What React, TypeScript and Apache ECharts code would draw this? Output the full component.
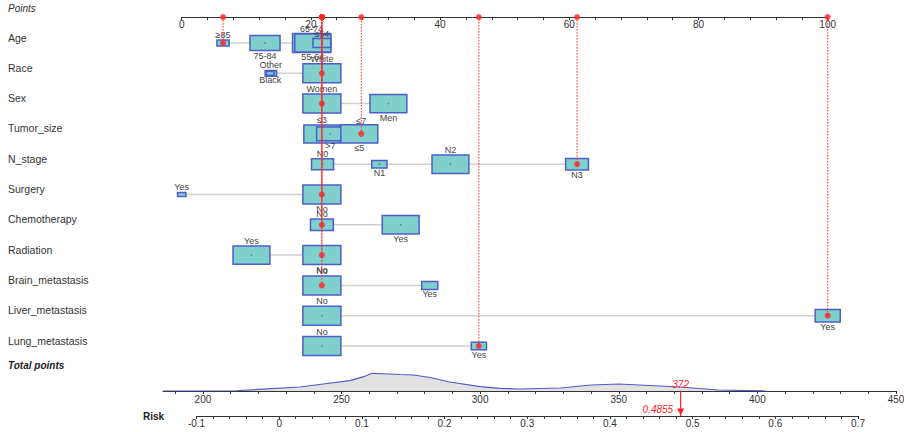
import React, { useEffect, useRef } from "react";
import * as echarts from "echarts";

const FONT = '"Liberation Sans", Arial, sans-serif';

const variables = [
  "Age", "Race", "Sex", "Tumor_size", "N_stage", "Surgery",
  "Chemotherapy", "Radiation", "Brain_metastasis", "Liver_metastasis", "Lung_metastasis",
];

const ageLevels = ["≥85", "75-84", "65-74", "55-64", "≤54"];
const agePoints = [6.4, 12.9, 20.1, 20.3, 21.7];
const ageSizes = [0.32, 0.79, 1.0, 0.95, 0.47];

const raceLevels = ["Other", "Black", "White"];
const racePoints = [13.8, 13.7, 21.7];
const raceSizes = [0.3, 0.2, 1.0];

const sexLevels = ["Women", "Men"];
const sexPoints = [21.7, 32.0];
const sexSizes = [1.0, 0.97];

const tumorLevels = ["≤3", ">7", "≤7", "≤5"];
const tumorPoints = [21.7, 23.0, 27.8, 27.5];
const tumorSizes = [0.95, 0.72, 0.78, 0.97];

const nLevels = ["N0", "N1", "N2", "N3"];
const nPoints = [21.8, 30.6, 41.6, 61.2];
const nSizes = [0.58, 0.4, 0.97, 0.6];

const surgeryLevels = ["Yes", "No"];
const surgeryPoints = [0, 21.7];
const surgerySizes = [0.22, 1.0];

const chemoLevels = ["No", "Yes"];
const chemoPoints = [21.7, 33.9];
const chemoSizes = [0.6, 0.97];

const radiationLevels = ["Yes", "No"];
const radiationPoints = [10.8, 21.7];
const radiationSizes = [0.97, 1.0];

const brainLevels = ["No", "Yes"];
const brainPoints = [21.7, 38.4];
const brainSizes = [1.0, 0.42];

const liverLevels = ["No", "Yes"];
const liverPoints = [21.7, 100];
const liverSizes = [1.0, 0.66];

const lungLevels = ["No", "Yes"];
const lungPoints = [21.7, 46.0];
const lungSizes = [1.0, 0.4];

const selectedLevels = ["≥85", "White", "Women", "≤7", "N3", "No", "No", "No", "No", "Yes", "Yes"];

const pointsLabels = [0, 20, 40, 60, 80, 100];
const totalLabels = [200, 250, 300, 350, 400, 450];
const riskLabels = [-0.1, 0, 0.1, 0.2, 0.3, 0.4, 0.5, 0.6, 0.7];

const densityPoints = [185.6, 200, 212, 235, 242, 253, 258, 261, 265, 271, 276, 282, 289, 300, 307, 314, 329, 340, 350, 361, 372, 386, 403];
const densityValues = [0, 0, 0.05, 0.8, 1.3, 2.06, 2.86, 3.54, 3.45, 3.3, 3.2, 2.7, 1.8, 0.86, 0.54, 0.4, 0.6, 1.2, 1.4, 1.1, 0.8, 0.2, 0];

const totalScore = 372;
const predictedRisk = 0.4855;

const rows = [
  [ageLevels, agePoints, ageSizes],
  [raceLevels, racePoints, raceSizes],
  [sexLevels, sexPoints, sexSizes],
  [tumorLevels, tumorPoints, tumorSizes],
  [nLevels, nPoints, nSizes],
  [surgeryLevels, surgeryPoints, surgerySizes],
  [chemoLevels, chemoPoints, chemoSizes],
  [radiationLevels, radiationPoints, radiationSizes],
  [brainLevels, brainPoints, brainSizes],
  [liverLevels, liverPoints, liverSizes],
  [lungLevels, lungPoints, lungSizes],
] as [string[], number[], number[]][];

const AXIS_ROW = -0.855;
const BOX_W = 38;
const BOX_H = 19;
const RED = "#ff2424";

function range(a: number, b: number, step: number, dec: number) {
  const out: number[] = [];
  const n = Math.round((b - a) / step);
  for (let i = 0; i <= n; i++) out.push(Math.round((a + i * step) * Math.pow(10, dec)) / Math.pow(10, dec));
  return out;
}

export default function App() {
  const ref = useRef<HTMLDivElement>(null);
  useEffect(() => {
    if (!ref.current) return;
    const chart = echarts.init(ref.current, null, { renderer: "svg" });

    const boxItems: { pts: number; row: number; size: number; label: string; above: boolean }[] = [];
    const rowSpans: number[][] = [];
    const selections: number[][] = [];
    rows.forEach(([levels, pts, sizes], r) => {
      levels.forEach((lv, i) => boxItems.push({ pts: pts[i], row: r, size: sizes[i], label: lv, above: i % 2 === 0 }));
      rowSpans.push([Math.min(...pts), Math.max(...pts), r]);
      const si = levels.indexOf(selectedLevels[r]);
      selections.push([pts[si], r, r]);
    });

    const option: any = {
      animation: false,
      backgroundColor: "#ffffff",
      textStyle: { fontFamily: FONT },
      grid: [
        { left: 181.7, width: 646, top: 17.1, height: 344.05, outerBoundsMode: "none" },
        { left: 163, width: 733, top: 370, height: 21, outerBoundsMode: "none" },
        { left: 196.5, width: 661.5, top: 391, height: 25, outerBoundsMode: "none" },
      ],
      xAxis: [
        {
          gridIndex: 0, type: "value", position: "top", min: 0, max: 100,
          axisLine: { onZero: false, lineStyle: { color: "#333", width: 1 } },
          axisTick: { inside: true, length: 3, customValues: range(0, 100, 4, 0), lineStyle: { color: "#333" } },
          axisLabel: { inside: true, margin: 2, customValues: pointsLabels, color: "#333", fontSize: 10, fontFamily: FONT },
          splitLine: { show: false },
        },
        {
          gridIndex: 1, type: "value", position: "bottom", min: 185.6, max: 450,
          axisLine: { onZero: false, lineStyle: { color: "#333", width: 1 } },
          axisTick: { length: 3, customValues: range(190, 450, 10, 0), lineStyle: { color: "#333" } },
          axisLabel: { margin: 3, customValues: totalLabels, color: "#333", fontSize: 10, fontFamily: FONT },
          splitLine: { show: false },
        },
        {
          gridIndex: 2, type: "value", position: "bottom", min: -0.1, max: 0.7,
          axisLine: { onZero: false, lineStyle: { color: "#333", width: 1 } },
          axisTick: { length: 3, customValues: range(-0.1, 0.7, 0.02, 2), lineStyle: { color: "#333" } },
          axisLabel: { margin: 2, customValues: riskLabels, color: "#333", fontSize: 10, fontFamily: FONT, formatter: (v: number) => String(Math.round(v * 10) / 10) },
          splitLine: { show: false },
        },
      ],
      yAxis: [
        {
          gridIndex: 0, type: "value", inverse: true, min: AXIS_ROW, max: 10.5,
          axisLine: { show: false }, axisTick: { show: false }, splitLine: { show: false },
          axisLabel: {
            customValues: variables.map((_, i) => i),
            formatter: (v: number) => variables[Math.round(v)] ?? "",
            align: "left", margin: 173.7, verticalAlign: "bottom",
            fontSize: 10.5, color: "#333", fontFamily: FONT,
          },
        },
        { gridIndex: 1, type: "value", min: 0, max: 4.2, show: false },
        { gridIndex: 2, type: "value", min: 0, max: 1, show: false },
      ],
      series: [
        {
          type: "custom", xAxisIndex: 0, yAxisIndex: 0, z: 1,
          data: rowSpans,
          encode: { x: [0, 1], y: 2 },
          renderItem: (_p: any, api: any) => {
            const a = api.coord([api.value(0), api.value(2)]);
            const b = api.coord([api.value(1), api.value(2)]);
            return { type: "line", shape: { x1: a[0], y1: a[1], x2: b[0], y2: b[1] }, style: { stroke: "#cfcfcf", lineWidth: 1.5 } };
          },
        },
        {
          type: "custom", xAxisIndex: 0, yAxisIndex: 0, z: 2,
          data: boxItems.map((b) => [b.pts, b.row, b.size]),
          encode: { x: 0, y: 1 },
          renderItem: (_p: any, api: any) => {
            const c = api.coord([api.value(0), api.value(1)]);
            const s = api.value(2);
            const w = BOX_W * s, h = BOX_H * s;
            return {
              type: "group",
              children: [
                { type: "rect", shape: { x: c[0] - w / 2, y: c[1] - h / 2, width: w, height: h }, style: { fill: "#7fd0cc", stroke: "#4d5ec8", lineWidth: 1.5 } },
                { type: "circle", shape: { cx: c[0], cy: c[1], r: 0.8 }, style: { fill: "#5c8088" } },
              ],
            };
          },
        },
        {
          type: "custom", xAxisIndex: 0, yAxisIndex: 0, z: 3,
          data: boxItems.map((b) => [b.pts, b.row, b.size]),
          encode: { x: 0, y: 1 },
          renderItem: (p: any, api: any) => {
            const item = boxItems[p.dataIndex];
            const c = api.coord([api.value(0), api.value(1)]);
            const h = BOX_H * api.value(2);
            return {
              type: "text",
              x: c[0],
              y: item.above ? c[1] - h / 2 - 0.5 : c[1] + h / 2 + 0.5,
              style: { text: item.label, fill: "#444", font: `9px ${FONT}`, align: "center", verticalAlign: item.above ? "bottom" : "top" },
            };
          },
        },
        {
          type: "custom", xAxisIndex: 0, yAxisIndex: 0, z: 4,
          data: selections,
          encode: { x: 0, y: 1 },
          renderItem: (_p: any, api: any) => {
            const a = api.coord([api.value(0), AXIS_ROW]);
            const b = api.coord([api.value(0), api.value(1)]);
            return {
              type: "line",
              shape: { x1: a[0], y1: a[1], x2: b[0], y2: b[1] },
              style: { stroke: RED, lineWidth: 1, lineDash: [1.5, 1.5], lineDashOffset: api.value(2) * 0.7 },
            };
          },
        },
        {
          type: "scatter", xAxisIndex: 0, yAxisIndex: 0, z: 5, clip: false,
          symbol: "circle", symbolSize: 6, itemStyle: { color: RED },
          data: selections.map((s) => [s[0], s[1]]),
        },
        {
          type: "scatter", xAxisIndex: 0, yAxisIndex: 0, z: 5, clip: false,
          symbol: "circle", symbolSize: 6, itemStyle: { color: RED },
          data: selections.map((s) => [s[0], AXIS_ROW]),
        },
        {
          type: "line", xAxisIndex: 1, yAxisIndex: 1, z: 1,
          symbol: "none", smooth: false,
          lineStyle: { color: "#5555cc", width: 1.2 },
          areaStyle: { color: "#e2e2e2", opacity: 1 },
          data: densityPoints.map((x, i) => [x, densityValues[i]]),
        },
        {
          type: "line", xAxisIndex: 2, yAxisIndex: 2, z: 6, clip: false,
          lineStyle: { color: RED, width: 1.2 },
          itemStyle: { color: RED },
          showSymbol: true,
          data: [
            {
              value: [predictedRisk, 1], symbol: "circle", symbolSize: 1,
              label: { show: true, position: "top", distance: 1, formatter: String(totalScore), color: RED, fontStyle: "italic", fontSize: 10, fontFamily: FONT },
            },
            {
              value: [predictedRisk, 0], symbol: "triangle", symbolRotate: 180, symbolSize: [7, 7], symbolOffset: [0, -4],
              label: { show: true, position: "left", distance: 4, offset: [0, -3], formatter: String(predictedRisk), color: RED, fontStyle: "italic", fontSize: 10, fontFamily: FONT },
            },
          ],
        },
      ],
      graphic: [
        { type: "text", left: 8, top: 3, style: { text: "Points", font: `italic 10px ${FONT}`, fill: "#333" } },
        { type: "text", left: 8, top: 360, style: { text: "Total points", font: `italic bold 10px ${FONT}`, fill: "#222" } },
        { type: "text", left: 143, top: 411, style: { text: "Risk", font: `bold 10px ${FONT}`, fill: "#222" } },
      ],
    };
    chart.setOption(option);
    return () => chart.dispose();
  }, []);
  return <div ref={ref} style={{ position: "fixed", left: 0, top: 0, width: 904, height: 432, background: "#fff" }} />;
}
